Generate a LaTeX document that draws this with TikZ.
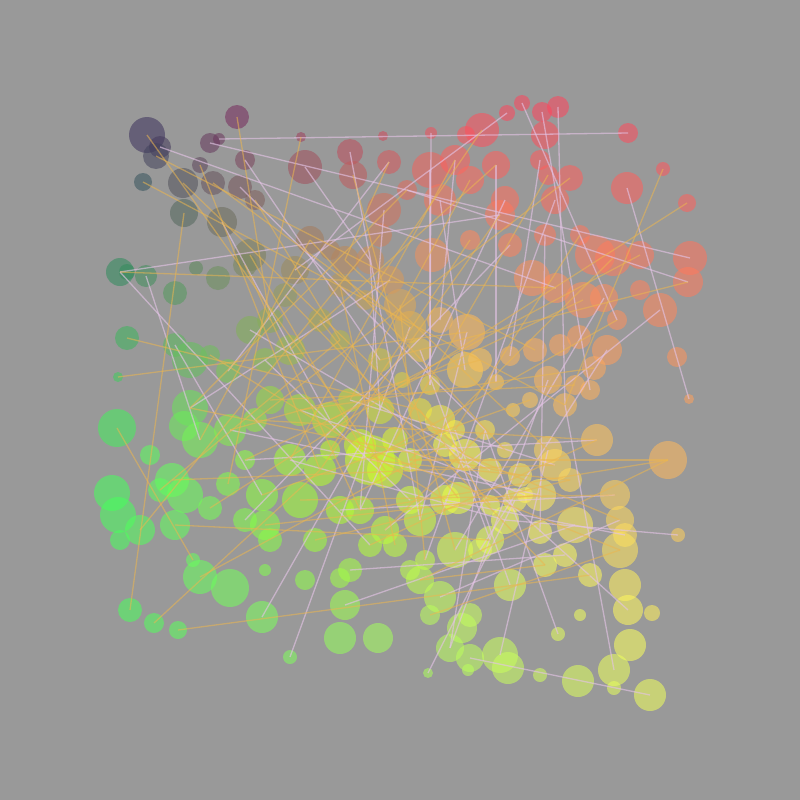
\documentclass[tikz,border=0pt]{standalone}
\begin{document}
\begin{tikzpicture}[x=1pt,y=-1pt,
  pinkline/.style={draw={rgb,255:red,228;green,196;blue,230}, line width=1.3pt, opacity=0.62},
  orangeline/.style={draw={rgb,255:red,235;green,182;blue,80}, line width=1.3pt, opacity=0.55}]
\definecolor{bg}{gray}{0.6}
\fill[bg] (0,0) rectangle (800,800);
\useasboundingbox (0,0) rectangle (800,800);
\foreach \x/\y/\r [count=\i] in {
237/117/12,147/135/18,160/147/11,156/156/13,210/143/10,219/139/6,245/160/10,200/165/8,143/182/9,183/183/15,
213/183/12,240/187/12,184/213/14,222/222/15,255/200/10,305/167/17,301/137/5,350/152/13,353/175/14,383/136/5,
389/162/12,431/133/6,384/210/17,380/235/12,407/190/10,430/170/18,455/160/15,440/200/16,470/180/14,466/135/9,
482/130/17,507/113/8,522/103/8,542/112/10,558/107/11,545/135/14,540/160/10,548/175/10,496/165/14,505/200/14,
500/215/15,555/200/14,570/178/13,628/133/10,663/169/7,627/188/16,687/203/9,432/255/17,470/240/10,510/245/12,
545/235/11,580/235/10,595/255/20,613/258/18,640/255/14,690/258/17,688/282/15,660/310/17,532/278/18,556/288/15,
583/300/18,604/298/14,617/320/10,640/290/10,677/357/10,689/399/5,607/350/15,594/368/12,579/337/12,560/345/11,
535/350/12,510/356/10,548/380/14,575/385/10,565/405/12,590/390/10,513/410/7,530/400/8,496/382/8,467/332/18,
465/370/18,480/360/12,440/320/13,410/327/16,400/305/16,390/280/14,345/260/14,370/260/14,310/240/14,330/250/10,
295/270/14,250/255/16,245/265/12,285/295/12,270/320/13,340/285/12,365/300/10,320/320/12,340/340/10,420/350/12,
430/385/10,402/380/8,380/360/12,120/272/14,127/272/8,146/276/11,175/293/12,196/268/7,218/278/12,127/338/12,
118/377/5,175/345/12,190/360/18,210/355/10,228/371/12,250/330/14,290/350/15,265/360/12,117/428/19,190/408/18,
184/426/15,150/455/10,172/480/17,200/440/18,230/430/16,255/420/12,270/400/14,300/410/16,330/420/18,112/493/18,
118/515/18,120/540/10,140/530/15,160/490/12,175/525/15,185/495/18,210/508/12,228/484/12,245/460/10,262/495/16,
265/525/15,270/540/12,245/520/12,290/460/16,300/500/18,320/470/16,340/510/14,230/588/19,200/577/17,193/560/7,
262/617/16,265/570/6,290/657/7,130/610/12,154/623/10,178/630/9,315/540/12,305/580/10,340/578/10,345/605/15,
340/638/16,378/638/15,350/570/12,370/460/25,385/470/18,360/445/16,395/440/13,410/460/12,380/410/14,350/400/12,
330/450/10,420/410/12,440/420/15,445/445/12,465/455/16,455/430/10,410/500/14,420/520/16,385/530/14,360/510/14,
370/545/12,395/545/12,445/500/15,458/498/16,455/550/18,425/560/10,420/580/14,410/570/10,440/597/16,430/615/10,
470/615/12,462/628/15,450/648/14,470/658/14,500/655/18,508/668/16,428/673/5,468/670/6,480/550/12,490/540/14,
505/520/14,515/500/12,540/495/16,555/465/16,548/450/14,570/480/12,540/532/12,565/555/12,575/525/18,545/565/12,
590/575/12,597/440/16,668/460/19,615/495/15,620/520/14,625/535/12,620/550/18,625/585/16,628/610/15,652/613/8,
630/645/16,614/670/16,614/688/7,650/695/16,578/681/16,540/675/7,558/634/7,580/615/6,678/535/7,510/585/16,
520/475/12,490/470/12,485/430/10,490/505/10,505/450/8,525/495/8}
{
  \pgfmathsetmacro\xf{max(0.0,min(1,(\x-100)/600))}
  \pgfmathsetmacro\yf{max(0.0,min(1,(\y-100)/600))}
  \pgfmathsetmacro\m{max(\xf,\yf,0.01)}
  \pgfmathsetmacro\v{min(1,0.12+1.5*\m)}
  \pgfmathsetmacro\rr{min(1,0.25*\v+0.75*\v*max(\xf,0.02)/\m)}
  \pgfmathsetmacro\gg{min(1,0.25*\v+0.75*\v*max(\yf,0.02)/\m)}
  \pgfmathsetmacro\dd{min(1,sqrt((\xf-0.42)^2+(\yf-0.6)^2)/0.3)}
  \pgfmathsetmacro\bb{0.12+0.24*\dd}
  \definecolor{cc}{rgb}{\rr,\gg,\bb}
  \fill[cc, opacity=0.55] (\x,\y) circle (\r);
  \coordinate (n\i) at (\x,\y);
}
% pink connectors
\foreach \a/\b in {6/44,5/56,3/60,104/41,104/181,153/84,224/194,229/201,46/66,33/63,35/75,32/91,34/76,25/57,
12/233,7/103,14/129,16/88,18/178,23/180,26/101,28/81,51/207,22/101,39/79,75/222,233/227,197/202,195/205,193/233,
151/166,40/180,42/186,50/143,58/179,62/185,67/199,73/193,80/178,86/120,88/169,100/200,116/232,118/177,125/203,
128/236,139/212,144/201,147/214,160/209,163/208,170/204,174/219,176/230,183/216,189/215,106/124,112/140,21/115,27/83,37/72}
  \draw[pinkline] (n\a) -- (n\b);
% orange connectors
\foreach \a/\b in {1/95,13/154,104/60,110/172,111/80,119/150,155/146,156/211,213/187,4/71,9/75,10/175,45/75,
2/165,8/146,11/84,15/99,19/185,24/133,124/89,134/99,55/129,39/117,43/126,47/137,213/180,
17/138,21/87,25/120,27/144,29/170,31/97,38/167,41/146,49/171,52/176,54/168,57/103,61/139,63/164,68/128,74/127,
78/140,82/125,85/186,87/205,89/235,92/166,93/180,94/210,96/182,98/184,114/183,120/231,123/204,126/212,135/200,
141/203,145/214,149/174,157/206,164/206,166/217,168/213,172/234,175/215,179/233,181/212,187/210,190/217}
  \draw[orangeline] (n\a) -- (n\b);
\end{tikzpicture}
\end{document}
